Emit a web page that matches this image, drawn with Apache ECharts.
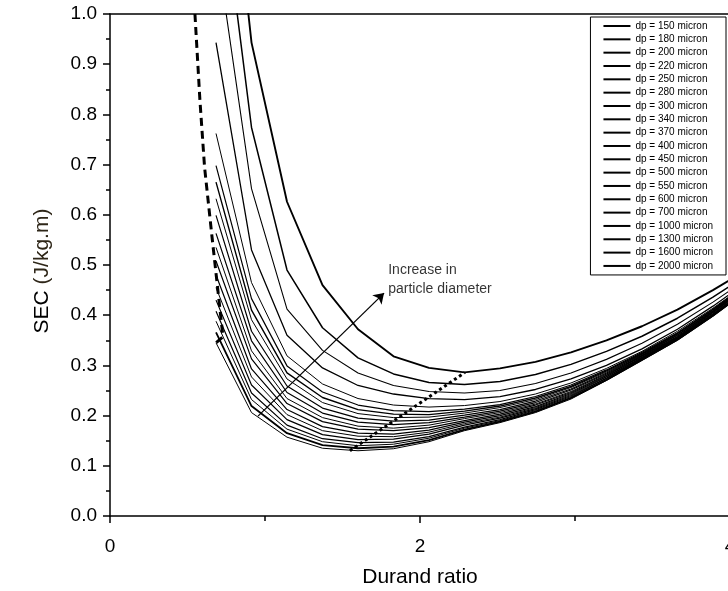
<!DOCTYPE html>
<html>
<head>
<meta charset="utf-8">
<script src="https://cdn.jsdelivr.net/npm/echarts@6/dist/echarts.min.js"></script>
<style>
html,body{margin:0;padding:0;background:#fff;}
#chart{width:728px;height:591px;}
</style>
</head>
<body>
<div id="chart"></div>
<script>
// Durand ratio values at which every curve is evaluated
const durand = [0.684,0.913,1.142,1.371,1.600,1.829,2.058,2.287,2.516,2.745,2.974,3.203,3.432,3.661,3.890,4.119];

const dpNames = ['dp = 150 micron','dp = 180 micron','dp = 200 micron','dp = 220 micron','dp = 250 micron',
  'dp = 280 micron','dp = 300 micron','dp = 340 micron','dp = 370 micron','dp = 400 micron','dp = 450 micron',
  'dp = 500 micron','dp = 550 micron','dp = 600 micron','dp = 700 micron','dp = 1000 micron','dp = 1300 micron',
  'dp = 1600 micron','dp = 2000 micron'];

const sec150  = [0.345,0.206,0.157,0.135,0.130,0.134,0.148,0.170,0.186,0.206,0.233,0.270,0.310,0.350,0.398,0.450];
const sec180  = [0.366,0.219,0.165,0.141,0.135,0.138,0.151,0.172,0.188,0.208,0.235,0.271,0.311,0.351,0.399,0.451];
const sec200  = [0.388,0.232,0.173,0.148,0.140,0.143,0.155,0.175,0.190,0.210,0.236,0.272,0.312,0.352,0.400,0.451];
const sec220  = [0.408,0.245,0.181,0.154,0.146,0.147,0.158,0.177,0.192,0.212,0.238,0.274,0.313,0.353,0.400,0.452];
const sec250  = [0.430,0.261,0.192,0.162,0.152,0.153,0.163,0.181,0.195,0.214,0.240,0.275,0.314,0.354,0.401,0.453];
const sec280  = [0.455,0.277,0.202,0.170,0.159,0.158,0.167,0.184,0.197,0.216,0.242,0.277,0.315,0.355,0.402,0.454];
const sec300  = [0.480,0.293,0.212,0.178,0.165,0.163,0.171,0.187,0.200,0.218,0.244,0.278,0.316,0.356,0.403,0.455];
const sec340  = [0.508,0.313,0.224,0.188,0.173,0.170,0.176,0.190,0.203,0.221,0.246,0.280,0.318,0.357,0.405,0.456];
const sec370  = [0.535,0.329,0.234,0.196,0.179,0.175,0.181,0.194,0.206,0.223,0.248,0.281,0.319,0.358,0.406,0.457];
const sec400  = [0.563,0.349,0.246,0.205,0.187,0.182,0.186,0.197,0.209,0.226,0.251,0.283,0.320,0.360,0.407,0.458];
const sec450  = [0.599,0.368,0.259,0.215,0.195,0.189,0.191,0.201,0.212,0.229,0.253,0.285,0.322,0.361,0.408,0.459];
const sec500  = [0.632,0.391,0.273,0.226,0.204,0.196,0.197,0.205,0.216,0.232,0.256,0.287,0.323,0.363,0.409,0.460];
const sec550  = [0.665,0.410,0.285,0.236,0.212,0.203,0.202,0.209,0.219,0.235,0.258,0.289,0.324,0.364,0.411,0.461];
const sec600  = [0.698,0.433,0.299,0.247,0.221,0.210,0.208,0.213,0.222,0.238,0.261,0.291,0.326,0.365,0.412,0.463];
const sec700  = [0.762,0.465,0.319,0.263,0.234,0.221,0.217,0.220,0.228,0.243,0.265,0.294,0.328,0.368,0.414,0.464];
const sec1000 = [0.943,0.530,0.360,0.295,0.260,0.243,0.234,0.232,0.238,0.252,0.273,0.300,0.333,0.372,0.418,0.468];
const sec1300 = [1.140,0.652,0.412,0.330,0.285,0.260,0.248,0.245,0.250,0.264,0.285,0.312,0.344,0.382,0.426,0.474];
const sec1600 = [1.335,0.774,0.490,0.375,0.315,0.283,0.266,0.262,0.268,0.282,0.302,0.328,0.358,0.394,0.436,0.482];
const sec2000 = [1.590,0.943,0.626,0.460,0.372,0.318,0.295,0.286,0.294,0.307,0.326,0.350,0.378,0.411,0.450,0.492];

// deposition-limit (dashed) and minimum-SEC (dotted) guide lines
const limitX = [0.548,0.580,0.610,0.655,0.703,0.729,0.684];
const limitY = [1.000,0.829,0.695,0.565,0.430,0.357,0.345];
const minX = [1.548,2.290];
const minY = [0.130,0.286];

// annotation arrow and text
const arrowFrom = [0.955,0.199];
const arrowTo = [1.768,0.444];
const noteAt = [1.795,0.471];
const noteText = 'Increase in\nparticle diameter';

const xTicks = [0,2,4];

const allSec = [sec150,sec180,sec200,sec220,sec250,sec280,sec300,sec340,sec370,sec400,sec450,sec500,sec550,sec600,sec700,sec1000,sec1300,sec1600,sec2000];
const widths = [1,1.8,1,1.2,1.2,1,1.2,1.2,1,1.2,1.2,1,1.4,1.2,1,1.3,1.1,1.5,1.9];

const FONT = '"Liberation Sans", Arial, Helvetica, sans-serif';
const zip = (a,b) => a.map((v,i)=>[v,b[i]]);

const series = allSec.map((ys,i)=>({
  name: dpNames[i],
  type: 'line',
  data: zip(durand, ys),
  symbol: 'none',
  showSymbol: false,
  smooth: false,
  lineStyle: {color:'#000', width: widths[i]},
  itemStyle: {color:'#000'},
  z: 3
}));

series.push({
  name: 'limit', type: 'line', data: zip(limitX, limitY), symbol:'none',
  lineStyle:{color:'#000', width:3, type:[8,5]}, z: 4
});
series.push({
  name: 'minimum', type: 'line', data: zip(minX, minY), symbol:'none',
  lineStyle:{color:'#000', width:3, type:[3,3]}, z: 4
});
series.push({
  name: 'note', type: 'scatter', data: [noteAt], symbolSize: 0, silent: true,
  label: {show:true, position:'right', distance:0, formatter: noteText, fontFamily: FONT,
          fontSize:14, lineHeight:19, color:'#000', align:'left'},
  markLine: {
    silent: true, symbol: ['none','arrow'], symbolSize: 10, animation:false,
    label:{show:false},
    lineStyle:{color:'#000', width:1.3, type:'solid'},
    data: [[{coord: arrowFrom},{coord: arrowTo}]]
  },
  z: 5
});

const chart = echarts.init(document.getElementById('chart'), null, {renderer:'canvas'});
const axisLine = {show:true, onZero:false, lineStyle:{color:'#000', width:1.5}};
chart.setOption({
  animation: false,
  backgroundColor: '#fff',
  textStyle: {fontFamily: FONT},
  grid: {left:110, right:-2, top:14, bottom:75, containLabel:false, outerBoundsMode:'none'},
  legend: {
    data: dpNames, orient:'vertical', right:2, top:17,
    itemWidth:27, itemHeight:10, itemGap:3.33, padding:[4,13,4,12],
    borderColor:'#000', borderWidth:1, backgroundColor:'#fff',
    itemStyle:{opacity:0, color:'transparent', borderWidth:0},
    textStyle:{fontSize:10, color:'#000', fontFamily:FONT, lineHeight:10},
    selectedMode:false, z: 10
  },
  xAxis: [{
    type:'value', min:0, max:4, interval:2,
    axisLine: axisLine,
    axisTick:{show:true, inside:false, length:7, lineStyle:{color:'#000', width:1.5}},
    minorTick:{show:true, splitNumber:2, length:5, lineStyle:{color:'#000', width:1.5}},
    splitLine:{show:false}, minorSplitLine:{show:false},
    axisLabel:{margin:21, fontSize:19, color:'#000', fontFamily:FONT,
      formatter: v => xTicks.includes(v) ? String(v) : ''},
    name:'Durand ratio', nameLocation:'middle', nameGap:51,
    nameTextStyle:{fontSize:21, color:'#000', fontFamily:FONT}
  },{
    type:'value', min:0, max:4, position:'top',
    axisLine: axisLine, axisTick:{show:false}, axisLabel:{show:false}, splitLine:{show:false}
  }],
  yAxis: [{
    type:'value', min:0, max:1, interval:0.1,
    axisLine: axisLine,
    axisTick:{show:true, inside:false, length:7, lineStyle:{color:'#000', width:1.5}},
    minorTick:{show:true, splitNumber:2, length:4, lineStyle:{color:'#000', width:1.5}},
    splitLine:{show:false}, minorSplitLine:{show:false},
    axisLabel:{margin:13, fontSize:19, color:'#000', fontFamily:FONT, formatter: v => v.toFixed(1)},
    name:'{a|SEC} {b|(J/kg.m)}', nameLocation:'middle', nameGap:57,
    nameTextStyle:{fontSize:21, color:'#000', fontFamily:FONT, padding:[0,0,0,-12],
      rich:{a:{fontSize:21, color:'#000', fontFamily:FONT}, b:{fontSize:21, color:'#2e2618', fontFamily:FONT}}}
  }],
  series: series
});
</script>
</body>
</html>
